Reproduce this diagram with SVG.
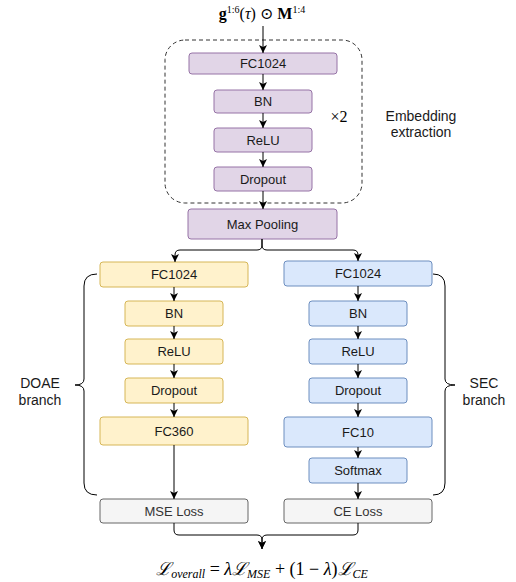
<svg xmlns="http://www.w3.org/2000/svg" width="516" height="582" viewBox="0 0 516 582">
<defs>
<marker id="arr" markerUnits="userSpaceOnUse" markerWidth="10" markerHeight="10" refX="8" refY="4" orient="auto">
<path d="M0,0 L8,4 L0,8 L2,4 Z" fill="#000"/>
</marker>
<style>
.lbl{font-family:"Liberation Sans",Arial,sans-serif;font-size:13px;fill:#1a1a1a;text-anchor:middle;dominant-baseline:central}
.side{font-family:"Liberation Sans",Arial,sans-serif;font-size:14px;fill:#1a1a1a;text-anchor:middle}
.math{font-family:"Liberation Serif","DejaVu Serif",serif;fill:#000;text-anchor:middle}
.p{fill:#e1d5e7;stroke:#9673a6;stroke-width:1}
.y{fill:#fff2cc;stroke:#d6b656;stroke-width:1}
.b{fill:#dae8fc;stroke:#6c8ebf;stroke-width:1}
.g{fill:#f5f5f5;stroke:#666666;stroke-width:1}
.e{fill:none;stroke:#000;stroke-width:1;marker-end:url(#arr)}
.br{fill:none;stroke:#000;stroke-width:1}
.gl{fill:#333333}
</style>
</defs>
<rect width="516" height="582" fill="#ffffff"/>

<text class="math" x="262" y="19" font-size="16"><tspan font-weight="bold">g</tspan><tspan font-size="10" dy="-6">1:6</tspan><tspan dy="6">(</tspan><tspan font-style="italic">τ</tspan><tspan>) ⊙ </tspan><tspan font-weight="bold">M</tspan><tspan font-size="10" dy="-6">1:4</tspan></text>

<g id="embedding-group">
<rect x="165" y="40" width="197" height="163" rx="20" fill="none" stroke="#333" stroke-width="1" stroke-dasharray="4 3"/>
<text class="math" x="339" y="122" font-size="16">×2</text>
<text class="side" x="421" y="121">Embedding</text>
<text class="side" x="421" y="137">extraction</text>
</g>

<g id="emb-fc1024"><rect class="p" x="189" y="53" width="148" height="21" rx="3"/><text class="lbl" x="263" y="63.5">FC1024</text></g>
<g id="emb-bn"><rect class="p" x="214" y="90" width="98" height="23" rx="3"/><text class="lbl" x="263" y="101.5">BN</text></g>
<g id="emb-relu"><rect class="p" x="214" y="128" width="98" height="24" rx="3"/><text class="lbl" x="263" y="140">ReLU</text></g>
<g id="emb-dropout"><rect class="p" x="214" y="167" width="98" height="24" rx="3"/><text class="lbl" x="263" y="179">Dropout</text></g>
<g id="maxpool"><rect class="p" x="188" y="209" width="149" height="30" rx="3"/><text class="lbl" x="262.5" y="224">Max Pooling</text></g>

<g id="doa-fc1024"><rect class="y" x="100" y="262" width="148" height="25" rx="3"/><text class="lbl" x="174" y="274.5">FC1024</text></g>
<g id="doa-bn"><rect class="y" x="125" y="301" width="98" height="25" rx="3"/><text class="lbl" x="174" y="313.5">BN</text></g>
<g id="doa-relu"><rect class="y" x="125" y="339" width="98" height="25" rx="3"/><text class="lbl" x="174" y="351.5">ReLU</text></g>
<g id="doa-dropout"><rect class="y" x="125" y="378" width="98" height="25" rx="3"/><text class="lbl" x="174" y="390.5">Dropout</text></g>
<g id="doa-fc360"><rect class="y" x="100" y="417" width="148" height="28" rx="3"/><text class="lbl" x="174" y="431">FC360</text></g>
<g id="mse"><rect class="g" x="100" y="499" width="148" height="24" rx="3"/><text class="lbl gl" x="174" y="511">MSE Loss</text></g>

<g id="sec-fc1024"><rect class="b" x="284" y="261" width="148" height="25" rx="3"/><text class="lbl" x="358" y="273.5">FC1024</text></g>
<g id="sec-bn"><rect class="b" x="309" y="301" width="98" height="25" rx="3"/><text class="lbl" x="358" y="313.5">BN</text></g>
<g id="sec-relu"><rect class="b" x="309" y="339" width="98" height="25" rx="3"/><text class="lbl" x="358" y="351.5">ReLU</text></g>
<g id="sec-dropout"><rect class="b" x="309" y="378" width="98" height="25" rx="3"/><text class="lbl" x="358" y="390.5">Dropout</text></g>
<g id="sec-fc10"><rect class="b" x="284" y="417" width="148" height="30" rx="3"/><text class="lbl" x="358" y="432">FC10</text></g>
<g id="sec-softmax"><rect class="b" x="309" y="458" width="98" height="25" rx="3"/><text class="lbl" x="358" y="470.5">Softmax</text></g>
<g id="ce"><rect class="g" x="284" y="499" width="148" height="24" rx="3"/><text class="lbl gl" x="358" y="511">CE Loss</text></g>

<g id="doae-label">
<path class="br" d="M97,274 Q84,274 84,286 L84,379 Q84,385 75,385 Q84,385 84,391 L84,483 Q84,495 97,495"/>
<text class="side" x="40" y="388">DOAE</text>
<text class="side" x="40" y="405">branch</text>
</g>
<g id="sec-label">
<path class="br" d="M433,274 Q445,274 445,286 L445,379 Q445,385 455,385 Q445,385 445,391 L445,483 Q445,495 433,495"/>
<text class="side" x="484" y="388">SEC</text>
<text class="side" x="484" y="405">branch</text>
</g>

<g id="connectors">
<path class="e" d="M263,26 L263,53"/>
<path class="e" d="M263,74 L263,90"/>
<path class="e" d="M263,113 L263,128"/>
<path class="e" d="M263,152 L263,167"/>
<path class="e" d="M263,191 L263,209"/>
<path class="e" d="M262,239 L262,245 Q262,250 257,250 L180,250 Q175,250 175,255 L175,262"/>
<path class="e" d="M262,239 L262,245 Q262,250 267,250 L353,250 Q358,250 358,255 L358,261"/>
<path class="e" d="M174,287 L174,301"/>
<path class="e" d="M174,326 L174,339"/>
<path class="e" d="M174,364 L174,378"/>
<path class="e" d="M174,403 L174,417"/>
<path class="e" d="M174,445 L174,499"/>
<path class="e" d="M358,286 L358,301"/>
<path class="e" d="M358,326 L358,339"/>
<path class="e" d="M358,364 L358,378"/>
<path class="e" d="M358,403 L358,417"/>
<path class="e" d="M358,447 L358,458"/>
<path class="e" d="M358,483 L358,499"/>
<path class="e" d="M174,523 L174,530 Q174,535 179,535 L257,535 Q262,535 262,540 L262,549"/>
<path class="e" d="M358,523 L358,530 Q358,535 353,535 L267,535 Q262,535 262,540 L262,549"/>
</g>

<text class="math" x="262" y="575" font-size="18"><tspan font-style="italic">ℒ</tspan><tspan font-style="italic" font-size="12" dy="3">overall</tspan><tspan dy="-3"> = </tspan><tspan font-style="italic">λℒ</tspan><tspan font-style="italic" font-size="12" dy="3">MSE</tspan><tspan dy="-3"> + (1 − </tspan><tspan font-style="italic">λ</tspan><tspan>)</tspan><tspan font-style="italic">ℒ</tspan><tspan font-style="italic" font-size="12" dy="3">CE</tspan></text>
</svg>
